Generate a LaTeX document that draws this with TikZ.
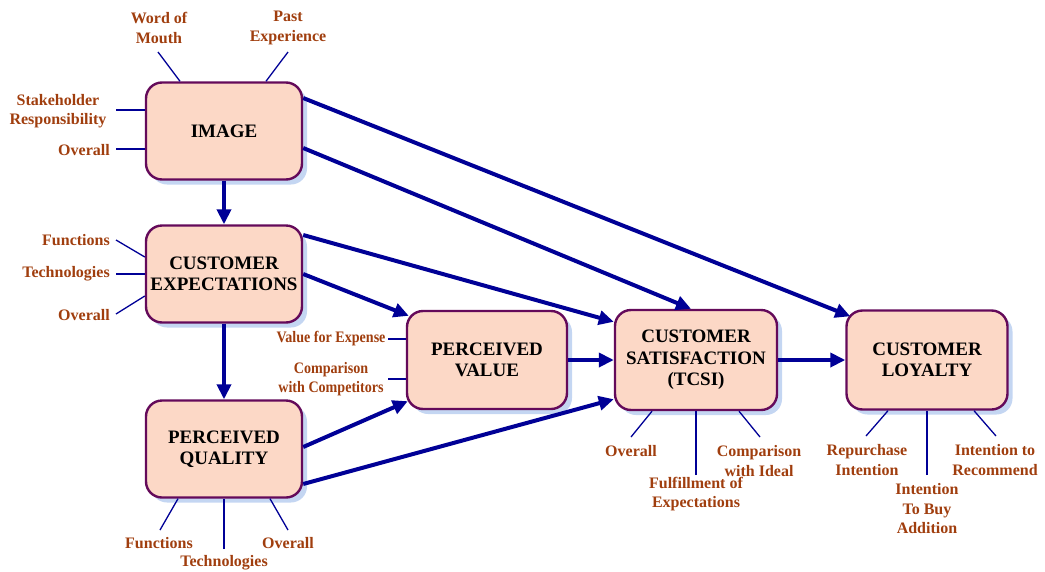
\documentclass[tikz,border=0pt]{standalone}
\usepackage{fontspec}
\setmainfont{Liberation Serif}
\usetikzlibrary{arrows.meta,shadows}
\definecolor{lblbrown}{RGB}{160,62,14}
\definecolor{boxfill}{RGB}{252,216,198}
\definecolor{boxdraw}{RGB}{100,10,90}
\definecolor{arrblue}{RGB}{0,0,150}
\definecolor{shblue}{RGB}{196,214,242}
\begin{document}
\begin{tikzpicture}[x=1pt,y=-1pt,
  box/.style={draw=boxdraw,line width=2.4pt,fill=boxfill,rounded corners=16pt,
    minimum width=156pt,minimum height=97pt,align=center,inner sep=2pt,
    font=\bfseries\fontsize{19}{21.5}\selectfont,
    drop shadow={shadow xshift=5pt,shadow yshift=-5pt,fill=shblue,opacity=1}},
  lbl/.style={text=lblbrown,align=center,inner sep=0pt,font=\bfseries\fontsize{16}{19.5}\selectfont},
  big/.style={draw=arrblue,line width=4pt,-{Triangle[length=15pt,width=14pt]}},
  bigline/.style={draw=arrblue,line width=4pt},
  ind/.style={draw=arrblue,line width=1.3pt}]
\useasboundingbox (0,0) rectangle (1045,571);
% boxes
\node[box] (img) at (224,131) {IMAGE};
\node[box] (ce) at (224,274) {CUSTOMER\\EXPECTATIONS};
\node[box] (pq) at (224,449) {PERCEIVED\\QUALITY};
\node[box,minimum width=160pt,minimum height=98pt] (pv) at (487,360) {PERCEIVED\\VALUE};
\node[box,minimum width=162pt,minimum height=100pt] (cs) at (696,360) {CUSTOMER\\SATISFACTION\\(TCSI)};
\node[box,minimum width=161pt,minimum height=99pt] (cl) at (927,360) {CUSTOMER\\LOYALTY};
% main arrows
\draw[big] (img.south) -- (ce.north);
\draw[big] (ce.south) -- (pq.north);
\draw[big] ([yshift=33pt]img.east) -- ([shift={(5pt,-7pt)}]cl.north west);
\draw[big] ([yshift=-17pt]img.east) -- ([xshift=-5pt]cs.north);
\draw[big] ([yshift=39pt]ce.east) -- ([shift={(0pt,-13pt)}]cs.north west);
\draw[big] (ce.east) -- ([shift={(3pt,-6pt)}]pv.north west);
\draw[big] ([yshift=2pt]pq.east) -- ([shift={(2pt,9pt)}]pv.south west);
\draw[big] ([yshift=-35pt]pq.east) -- ([shift={(0pt,12pt)}]cs.south west);
\draw[big] (pv.east) -- (cs.west);
\draw[big] (cs.east) -- (cl.west);
% IMAGE indicators
\node[lbl] (l1) at (159,28) {Word of\\Mouth};
\node[lbl] (l2) at (288,28) {Past\\Experience};
\node[lbl] (l3) at (58,111) {Stakeholder\\Responsibility};
\node[lbl] (l4) at (84,150) {Overall};
\coordinate (c1) at (158,52);
\coordinate (c2) at (288,52);
\coordinate (c3) at (116,110);
\coordinate (c4) at (116,149);
\draw[ind] (c1) -- ([xshift=-44pt]img.north);
\draw[ind] (c2) -- ([xshift=42pt]img.north);
\draw[ind] (c3) -- ([yshift=21pt]img.west);
\draw[ind] (c4) -- ([yshift=-18pt]img.west);
% CE indicators
\node[lbl] (l5) at (76,240) {Functions};
\node[lbl] (l6) at (66,274) {Technologies};
\node[lbl] (l7) at (84,315) {Overall};
\coordinate (c5) at (116,240);
\coordinate (c6) at (116,274);
\coordinate (c7) at (116,314);
\draw[ind] (c5) -- ([yshift=17pt]ce.west);
\draw[ind] (c6) -- (ce.west);
\draw[ind] (c7) -- ([yshift=-22pt]ce.west);
% PQ indicators
\node[lbl] (l8) at (159,543) {Functions};
\node[lbl] (l9) at (224,563) {Technologies};
\node[lbl] (l10) at (288,543) {Overall};
\coordinate (c8) at (160,530);
\coordinate (c9) at (224,549);
\coordinate (c10) at (288,530);
\draw[ind] (c8) -- ([xshift=-46pt]pq.south);
\draw[ind] (c9) -- (pq.south);
\draw[ind] (c10) -- ([xshift=46pt]pq.south);
% PV indicators
\node[lbl] (l11) at (331,339) {\scalebox{0.88}[1]{Value for Expense}};
\node[lbl] (l12) at (331,379) {\scalebox{0.88}[1]{Comparison}\\\scalebox{0.88}[1]{with Competitors}};
\coordinate (c11) at (388,339);
\coordinate (c12) at (388,379);
\draw[ind] (c11) -- ([yshift=21pt]pv.west);
\draw[ind] (c12) -- ([yshift=-19pt]pv.west);
% CS indicators
\node[lbl] (l13) at (631,451) {Overall};
\node[lbl] (l14) at (696,494) {Fulfillment of\\Expectations};
\node[lbl] (l15) at (759,461) {Comparison\\with Ideal};
\coordinate (c13) at (631,437);
\coordinate (c14) at (696,475);
\coordinate (c15) at (760,437);
\draw[ind] (c13) -- ([xshift=-44pt]cs.south);
\draw[ind] (c14) -- (cs.south);
\draw[ind] (c15) -- ([xshift=43pt]cs.south);
% CL indicators
\node[lbl] (l16) at (867,460) {Repurchase\\Intention};
\node[lbl] (l17) at (927,509) {Intention\\To Buy\\Addition};
\node[lbl] (l18) at (995,460) {Intention to\\Recommend};
\coordinate (c16) at (866,436);
\coordinate (c17) at (927,475);
\coordinate (c18) at (996,436);
\draw[ind] (c16) -- ([xshift=-39pt]cl.south);
\draw[ind] (c17) -- (cl.south);
\draw[ind] (c18) -- ([xshift=47pt]cl.south);
\end{tikzpicture}
\end{document}
